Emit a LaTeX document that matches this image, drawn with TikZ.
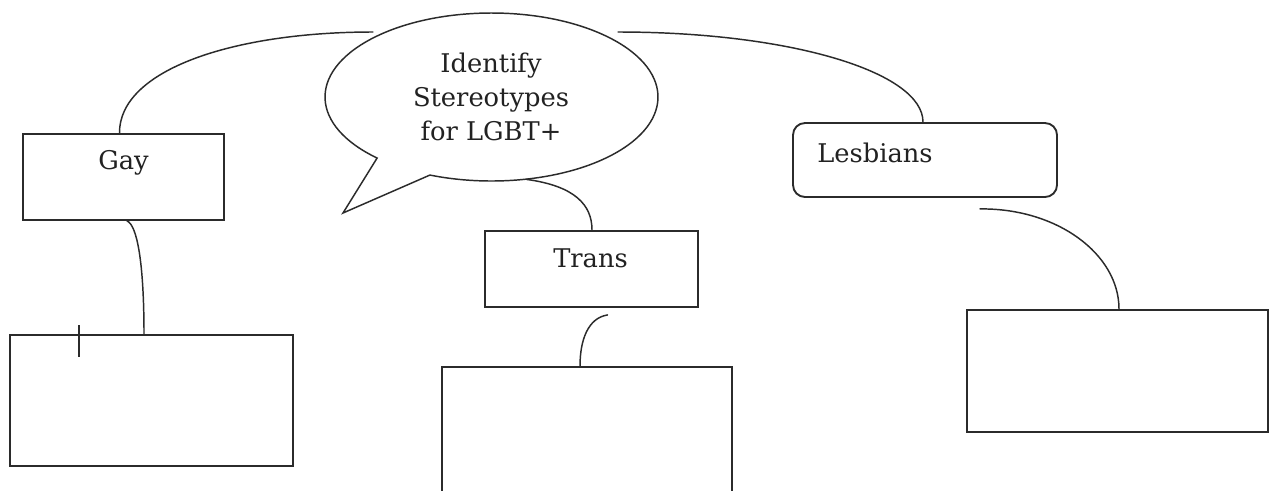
\documentclass[tikz,border=0pt]{standalone}
\usepackage{fontspec}
\setmainfont{DejaVu Serif}
\usetikzlibrary{calc,shapes.geometric}

\definecolor{ink}{HTML}{2B2B2B}
\definecolor{txt}{HTML}{222222}

\tikzset{
  box/.style={draw=ink, line width=1.4pt, rectangle, inner sep=0pt, fill=white},
  roundbox/.style={box, rounded corners=9pt},
  label text/.style={text=txt, inner sep=0pt, font=\fontsize{19.3}{25.5}\selectfont},
  link/.style={draw=ink, line width=1.1pt, line cap=round},
  bubble line/.style={draw=ink, line width=1.1pt, line join=miter},
}

\begin{document}
\begin{tikzpicture}[x=0.75pt, y=-0.75pt]
  \useasboundingbox (0,0) rectangle (1276,490);
  \fill[white] (0,0) rectangle (1276,490);
  \clip (0,0) rectangle (1276,490);

  % speech bubble: invisible ellipse for anchors, outline drawn with its tail
  \node[ellipse, draw=none, inner sep=0pt, minimum width=249.75pt, minimum height=126pt]
    (bub) at (491.5,97) {};
  \draw[bubble line] ($(bub.center)+(133.4:166.5 and 84)$)
    arc[start angle=133.4, end angle=471.7, x radius=166.5, y radius=84]
    -- (343,213) -- cycle;
  \node[label text, align=center, anchor=north] (bubtxt) at (491,52.5)
    {Identify\\Stereotypes\\for LGBT+};

  % category boxes
  \node[box, minimum width=150.75pt, minimum height=64.5pt] (gay) at (123.5,177) {};
  \node[box, minimum width=159.75pt, minimum height=57pt] (trans) at (591.5,269) {};
  \node[roundbox, minimum width=198pt, minimum height=55.5pt] (lesb) at (925,160) {};

  \node[label text, anchor=base west] (gaytxt) at (98,169) {Gay};
  \node[label text, anchor=base west] (transtxt) at (553,267) {Trans};
  \node[label text, anchor=base west] (lesbtxt) at (817,162) {Lesbians};

  % empty answer boxes
  \node[box, minimum width=212.25pt, minimum height=98.25pt] (gaynote) at (151.5,400.5) {};
  \node[box, minimum width=217.5pt, minimum height=122.25pt] (transnote) at (587,448.5) {};
  \node[box, minimum width=225.75pt, minimum height=91.5pt] (lesbnote) at (1117.5,371) {};

  % free ends beside the bubble
  \coordinate (bl) at (373,32);
  \coordinate (br) at (618,32);

  % connectors
  \draw[link] ($(gay.north)+(-4,0)$) .. controls (119,70) and (233,32) .. (bl);
  \draw[link] (br) .. controls (790,32) and (923,72) .. ($(lesb.north)+(-2,0)$);
  \draw[link] ($(gay.south)+(3.5,0)$) .. controls (137,225) and (144,262) .. ($(gaynote.north)+(-7.5,0)$);
  \draw[link] (bub.-67) .. controls (575,186) and (592,205) .. ($(trans.north)+(0.5,0)$);
  \draw[link] ($(trans.south)+(16,7)$) .. controls (588,318) and (580,340) .. ($(transnote.north)+(-7,0)$);
  \draw[link] ($(lesb.south)+(55,11)$) .. controls (1057,208) and (1119,254) .. ($(lesbnote.north)+(1.5,0)$);

  % stray tick on the first answer box
  \draw[link, line cap=butt] ($(gaynote.north west)+(70,-9)$) -- ++(0,32);
\end{tikzpicture}
\end{document}
